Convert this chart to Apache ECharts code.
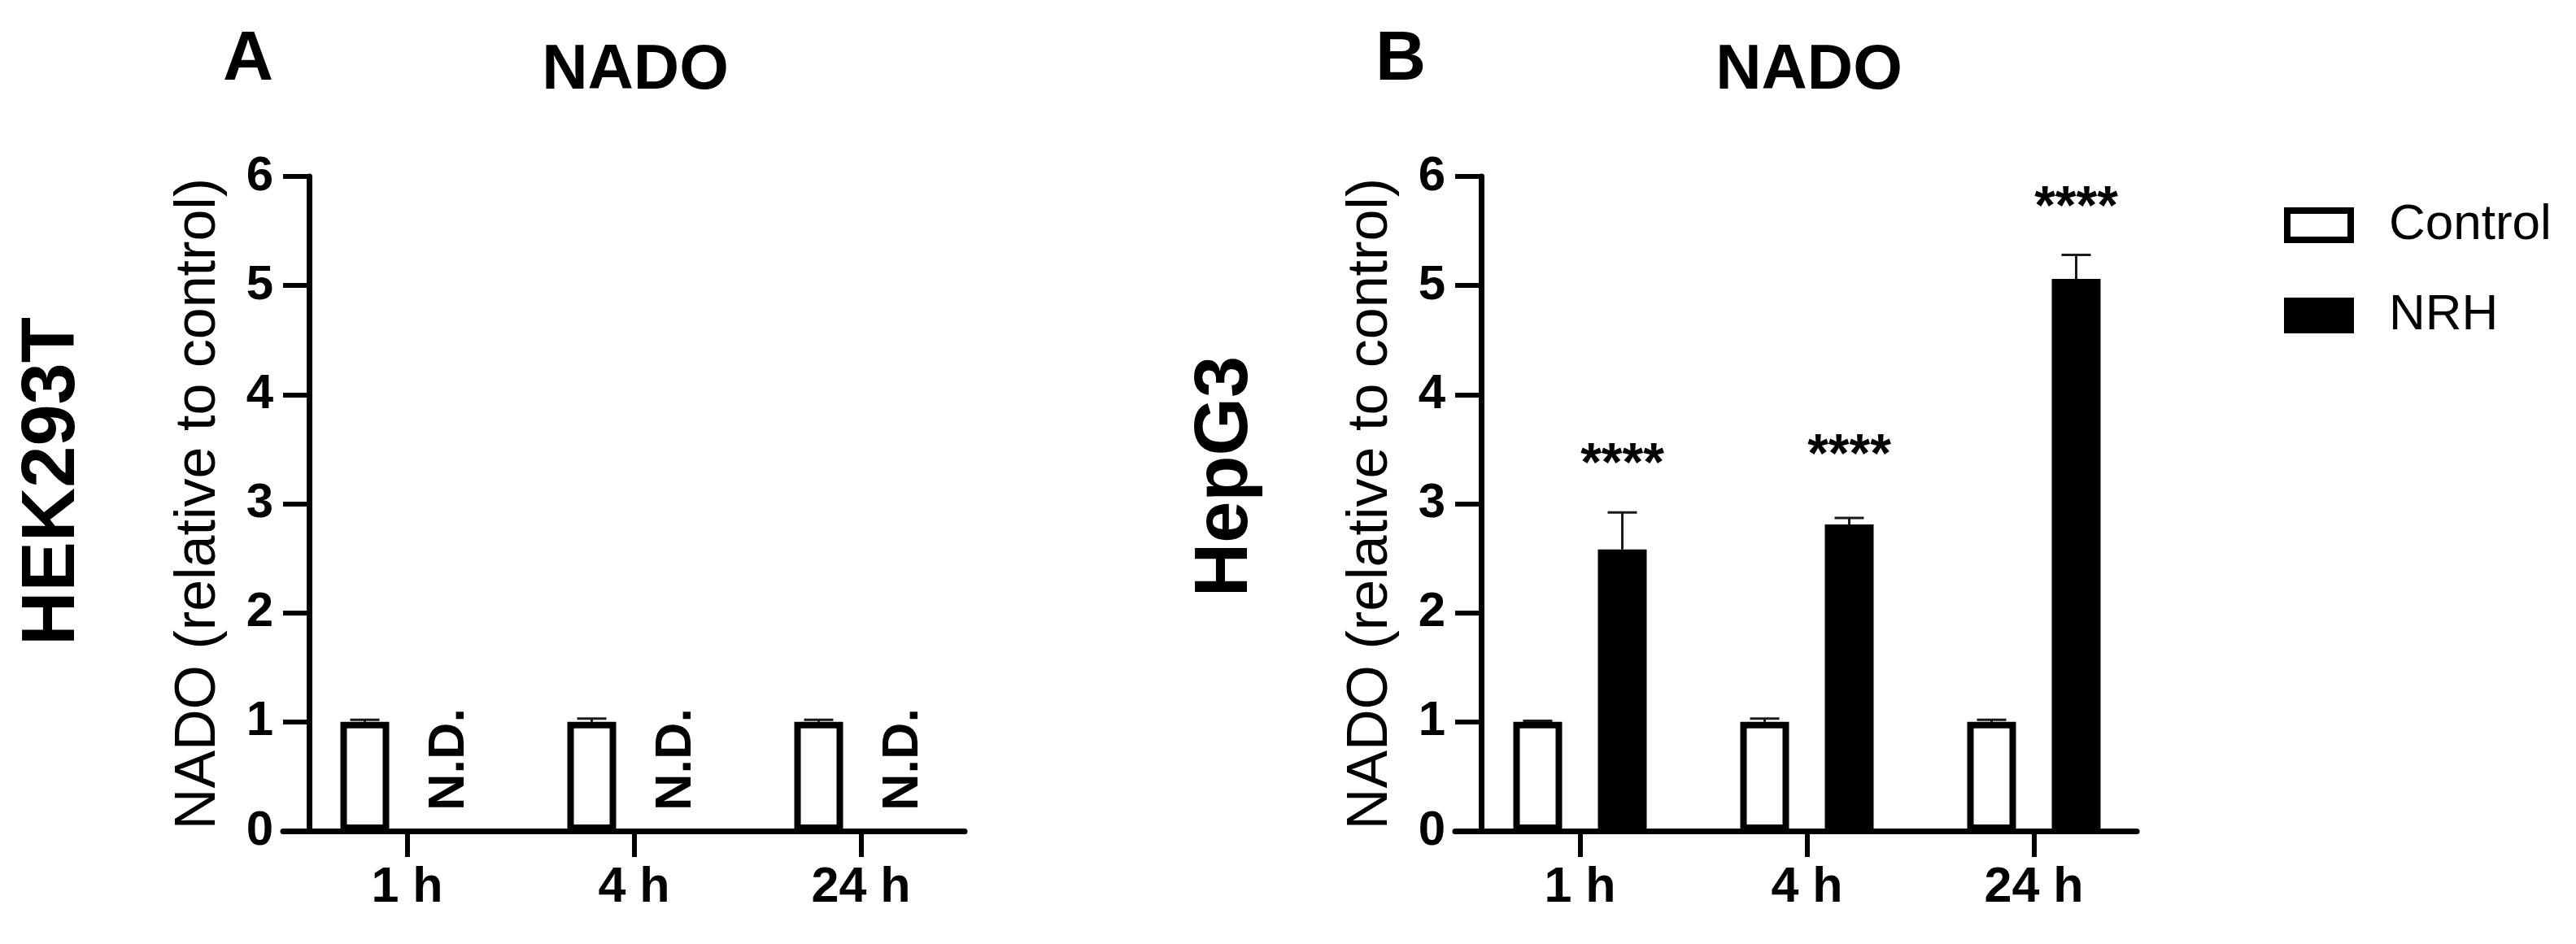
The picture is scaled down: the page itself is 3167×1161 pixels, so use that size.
<!DOCTYPE html>
<html>
<head>
<meta charset="utf-8">
<title>NADO</title>
<script src="https://cdn.jsdelivr.net/npm/echarts@6/dist/echarts.min.js"></script>
<style>
    html, body { margin: 0; padding: 0; background: #fff; }
    #main { width: 3167px; height: 1161px; }
</style>
</head>
<body>
<div id="main"></div>
<script>
// data
var categories = ['1 h', '4 h', '24 h'];
var seriesNames = ['Control', 'NRH'];

// panel A, HEK293T: NRH was not detected
var hekControl = [1.0, 1.0, 1.0];
var hekControlErr = [0.02, 0.03, 0.02];
var hekNrh = [null, null, null];
var hekNotes = ['N.D.', 'N.D.', 'N.D.'];

// panel B, HepG3
var hepControl = [1.0, 1.0, 1.0];
var hepControlErr = [0.01, 0.03, 0.02];
var hepNrh = [2.58, 2.81, 5.06];
var hepNrhErr = [0.34, 0.06, 0.22];
var hepStars = ['****', '****', '****'];
var hepStarLevels = [3.47, 3.55, 5.82];

var FONT = '"Liberation Sans", Arial, sans-serif';
var BAR_W = 60;
var BAR_GAP = 44;
var SHIFT = (BAR_W + BAR_GAP) / 2;
var CAP_W = 36;

var chart = echarts.init(document.getElementById('main'));

var option = {
    backgroundColor: '#fff',
    animation: false,
    textStyle: {fontFamily: FONT, color: '#000'},
    grid: [],
    xAxis: [],
    yAxis: [],
    series: [],
    legend: {
        orient: 'vertical',
        left: 2803,
        top: 241,
        itemWidth: 78,
        itemHeight: 36,
        itemGap: 49,
        icon: 'rect',
        selectedMode: false,
        textStyle: {fontSize: 62, lineHeight: 62, color: '#000', fontFamily: FONT, padding: [0, 0, 0, 42]},
        data: [
            {name: 'Control', itemStyle: {color: '#fff', borderColor: '#000', borderWidth: 8}},
            {name: 'NRH', itemStyle: {color: '#000', borderColor: '#000', borderWidth: 8}}
        ]
    },
    graphic: []
};

/**
 * error bar drawn above a bar, side -1 = Control, +1 = NRH
 */
function renderErrorBar(params, api) {
    var c = api.value(0), v = api.value(1), e = api.value(2), side = api.value(3);
    var base = api.coord([c, v]);
    var top = api.coord([c, v + e]);
    var x = base[0] + side * SHIFT;
    var style = {stroke: '#1a1a1a', lineWidth: 3};
    return {
        type: 'group',
        children: [
            {type: 'line', shape: {x1: x, y1: base[1], x2: x, y2: top[1]}, style: style},
            {type: 'line', shape: {x1: x - CAP_W / 2, y1: top[1], x2: x + CAP_W / 2, y2: top[1]}, style: style}
        ]
    };
}

function addPanel(p) {
    var g = option.grid.length;
    // band = 279 px per category
    option.grid.push({left: p.left, top: 217, width: 837, height: 805});
    // helper grid only for the x axis line (starts left of the y axis, prism style)
    option.grid.push({left: p.lineLeft, top: 217, width: 838, height: 805});

    var xi = option.xAxis.length;
    option.xAxis.push({
        type: 'category', gridIndex: g, data: categories,
        axisLine: {show: false},
        axisTick: {show: true, alignWithLabel: true, length: 32, lineStyle: {color: '#000', width: 6}},
        axisLabel: {color: '#000', fontSize: 61, fontWeight: 'bold', fontFamily: FONT, margin: 40}
    });
    option.xAxis.push({
        type: 'value', gridIndex: g + 1, min: 0, max: 1,
        axisLine: {show: true, lineStyle: {color: '#000', width: 7}},
        axisTick: {show: false}, axisLabel: {show: false}, splitLine: {show: false}
    });

    var yi = option.yAxis.length;
    option.yAxis.push({
        type: 'value', gridIndex: g, min: 0, max: 6, interval: 1, offset: p.yOffset,
        axisLine: {show: true, lineStyle: {color: '#000', width: 7}},
        axisTick: {show: true, length: 32, lineStyle: {color: '#000', width: 6}},
        axisLabel: {color: '#000', fontSize: 60, fontWeight: 'bold', fontFamily: FONT, margin: 44},
        splitLine: {show: false},
        name: 'NADO (relative to control)',
        nameLocation: 'middle',
        nameGap: 100,
        nameTextStyle: {color: '#000', fontSize: 70, fontFamily: FONT}
    });
    option.yAxis.push({type: 'value', gridIndex: g + 1, show: false, min: 0, max: 1});

    option.series.push({
        name: seriesNames[0], type: 'bar', xAxisIndex: xi, yAxisIndex: yi,
        data: p.control, barWidth: BAR_W, barGap: (BAR_GAP / BAR_W * 100) + '%',
        itemStyle: {color: '#fff', borderColor: '#000', borderWidth: 8}
    });
    option.series.push({
        name: seriesNames[1], type: 'bar', xAxisIndex: xi, yAxisIndex: yi,
        data: p.nrh, barWidth: BAR_W, barGap: (BAR_GAP / BAR_W * 100) + '%',
        itemStyle: {color: '#000', borderColor: '#000', borderWidth: 8}
    });

    var errData = [];
    p.control.forEach(function (v, i) {
        if (v != null) errData.push([i, v, p.controlErr[i], -1]);
    });
    if (p.nrhErr) {
        p.nrh.forEach(function (v, i) {
            if (v != null) errData.push([i, v, p.nrhErr[i], 1]);
        });
    }
    option.series.push({
        type: 'custom', xAxisIndex: xi, yAxisIndex: yi, z: 5,
        renderItem: renderErrorBar, data: errData, silent: true
    });

    if (p.notes) {
        // N.D. written upright in the NRH slot
        option.series.push({
            type: 'custom', xAxisIndex: xi, yAxisIndex: yi, z: 5, silent: true,
            data: p.notes.map(function (t, i) { return [i, 0]; }),
            renderItem: function (params, api) {
                var pt = api.coord([api.value(0), api.value(1)]);
                return {
                    type: 'text', x: pt[0] + SHIFT, y: pt[1] - 25, rotation: Math.PI / 2,
                    style: {text: p.notes[params.dataIndex], fill: '#000', fontSize: 63, fontWeight: 'bold',
                        fontFamily: FONT, align: 'left', verticalAlign: 'middle'}
                };
            }
        });
    }
    if (p.stars) {
        option.series.push({
            type: 'custom', xAxisIndex: xi, yAxisIndex: yi, z: 5, silent: true,
            data: p.starLevels.map(function (v, i) { return [i, v]; }),
            renderItem: function (params, api) {
                var pt = api.coord([api.value(0), api.value(1)]);
                return {
                    type: 'text', x: pt[0] + SHIFT, y: pt[1] + 16,
                    style: {text: p.stars[params.dataIndex], fill: '#000', fontSize: 66, fontWeight: 'bold',
                        fontFamily: FONT, align: 'center', verticalAlign: 'middle'}
                };
            }
        });
    }

    // panel letter, title and cell line
    option.graphic.push({type: 'text', x: p.letterX, y: 74,
        style: {text: p.letter, fill: '#000', fontSize: 86, fontWeight: 'bold', fontFamily: FONT, align: 'center', verticalAlign: 'middle'}});
    option.graphic.push({type: 'text', x: p.titleX, y: 87,
        style: {text: 'NADO', fill: '#000', fontSize: 78, fontWeight: 'bold', fontFamily: FONT, align: 'center', verticalAlign: 'middle'}});
    option.graphic.push({type: 'text', x: p.cellX, y: p.cellY, rotation: Math.PI / 2,
        style: {text: p.cell, fill: '#000', fontSize: 92, fontWeight: 'bold', fontFamily: FONT, align: 'center', verticalAlign: 'middle'}});
}

addPanel({
    left: 361, lineLeft: 348, yOffset: -19,
    control: hekControl, controlErr: hekControlErr, nrh: hekNrh, nrhErr: null,
    notes: hekNotes,
    letter: 'A', letterX: 305, titleX: 781, cell: 'HEK293T', cellX: 66, cellY: 592
});
addPanel({
    left: 1803, lineLeft: 1789, yOffset: -18,
    control: hepControl, controlErr: hepControlErr, nrh: hepNrh, nrhErr: hepNrhErr,
    stars: hepStars, starLevels: hepStarLevels,
    letter: 'B', letterX: 1722, titleX: 2224, cell: 'HepG3', cellX: 1508, cellY: 586
});

chart.setOption(option);
</script>
</body>
</html>
